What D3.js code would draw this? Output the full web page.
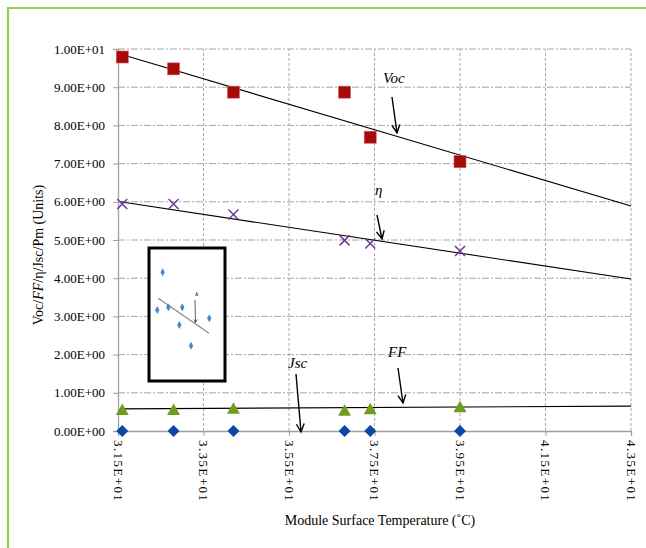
<!DOCTYPE html>
<html><head><meta charset="utf-8">
<script src="https://cdn.jsdelivr.net/npm/d3@7"></script>
<style>
html,body{margin:0;padding:0;background:#fff;}
svg{display:block;}
svg text{font-family:"Liberation Serif","Times New Roman","DejaVu Serif",serif !important;fill:#000;}
</style></head>
<body>
<script>
// ---- data ----
const temps = [31.6, 32.8, 34.2, 36.8, 37.4, 39.5];
const voc   = [9.79, 9.48, 8.87, 8.87, 7.69, 7.05];
const eta   = [5.94, 5.94, 5.67, 4.99, 4.91, 4.71];
const ff    = [0.55, 0.55, 0.58, 0.53, 0.57, 0.62];
const jsc   = [0, 0, 0, 0, 0, 0];
const trendX   = [31.55, 43.5];
const vocTrend = [9.87, 5.89];
const etaTrend = [6.0, 3.98];
const ffTrend  = [0.58, 0.65];
const xTicks = [31.5, 33.5, 35.5, 37.5, 39.5, 41.5, 43.5];
const xTickLabels = ["3.15E+01","3.35E+01","3.55E+01","3.75E+01","3.95E+01","4.15E+01","4.35E+01"];
const yTicks = [0,1,2,3,4,5,6,7,8,9,10];
const yTickLabels = ["0.00E+00","1.00E+00","2.00E+00","3.00E+00","4.00E+00","5.00E+00","6.00E+00","7.00E+00","8.00E+00","9.00E+00","1.00E+01"];
// inset (decorative mini chart), arbitrary 0-10 units
const insetX = [1.09, 1.80, 2.54, 4.38, 3.99, 5.53, 7.93];
const insetY = [5.34, 8.17, 5.54, 5.54, 4.21, 2.65, 4.71];
const insetLineX = [1.22, 7.89];
const insetLineY = [6.22, 3.59];

const FONT = '"Liberation Serif","Times New Roman","DejaVu Serif",serif';
const W = 646, H = 548;
const svg = d3.select("body").append("svg").attr("width", W).attr("height", H)
  .style("font-family", FONT);

// outer green frame
svg.append("path").attr("d", "M8,548 L8,8 L646,8").attr("fill","none")
  .attr("stroke","#92d050").attr("stroke-width",2.2);

const x = d3.scaleLinear().domain([31.5, 43.5]).range([118, 631]);
const y = d3.scaleLinear().domain([0, 10]).range([431, 49]);

const gridC = "#a6a6a6";
svg.append("g").selectAll("line").data(yTicks.filter(d=>d>0)).join("line")
  .attr("x1", x(31.5)).attr("x2", x(43.5)).attr("y1", d=>y(d)).attr("y2", d=>y(d))
  .attr("stroke", gridC).attr("stroke-width",1).attr("stroke-dasharray","7,2,2,2");
svg.append("g").selectAll("line").data(xTicks.filter(d=>d>31.5)).join("line")
  .attr("x1", d=>x(d)).attr("x2", d=>x(d)).attr("y1", y(0)).attr("y2", y(10))
  .attr("stroke", gridC).attr("stroke-width",1).attr("stroke-dasharray","3,2");

const yAxis = svg.append("g").attr("transform", `translate(${x(31.5)},0)`)
  .call(d3.axisLeft(y).tickValues(yTicks).tickSize(5).tickFormat((d,i)=>yTickLabels[i]));
const xAxis = svg.append("g").attr("transform", `translate(0,${y(0)})`)
  .call(d3.axisBottom(x).tickValues(xTicks).tickSize(5).tickFormat((d,i)=>xTickLabels[i]));
[yAxis, xAxis].forEach(g=>{
  g.attr("font-family", FONT);
  g.select(".domain").attr("stroke","#a0a0a0").attr("stroke-width",1.3);
  g.selectAll(".tick line").attr("stroke","#a0a0a0");
});
yAxis.selectAll(".tick text").attr("font-size",13).style("font-family",FONT)
  .attr("x",-13).attr("fill","#000");
xAxis.selectAll(".tick text").attr("font-size",13).style("font-family",FONT)
  .attr("fill","#000").attr("letter-spacing","1.4px")
  .attr("transform","rotate(90)").attr("text-anchor","start")
  .attr("x",9).attr("y",0).attr("dy","0.35em");

const line = d3.line().x(d=>x(d[0])).y(d=>y(d[1]));
[vocTrend, etaTrend, ffTrend].forEach(t=>{
  svg.append("path").attr("d", line(trendX.map((v,i)=>[v,t[i]])))
    .attr("fill","none").attr("stroke","#000").attr("stroke-width",1.1);
});

// Jsc diamonds
svg.append("g").selectAll("path").data(temps).join("path")
  .attr("d",(d,i)=>{const cx=x(d), cy=y(jsc[i]); return `M${cx},${cy-6}L${cx+6},${cy}L${cx},${cy+6}L${cx-6},${cy}Z`;})
  .attr("fill","#0a47a8");
// FF triangles
svg.append("g").selectAll("path").data(temps).join("path")
  .attr("d",(d,i)=>{const cx=x(d), cy=y(ff[i]); return `M${cx},${cy-6.5}L${cx+6.5},${cy+5}L${cx-6.5},${cy+5}Z`;})
  .attr("fill","#6e9e1c");
// Voc squares
svg.append("g").selectAll("rect").data(temps).join("rect")
  .attr("x",d=>x(d)-6).attr("y",(d,i)=>y(voc[i])-6).attr("width",12).attr("height",12)
  .attr("fill","#a80a0a").attr("stroke","#d45a5a").attr("stroke-width",0.6);
// eta crosses
svg.append("g").selectAll("path").data(temps).join("path")
  .attr("d",(d,i)=>{const cx=x(d), cy=y(eta[i]), r=5;
    return `M${cx-r},${cy-r}L${cx+r},${cy+r}M${cx-r},${cy+r}L${cx+r},${cy-r}`;})
  .attr("stroke","#6a3a9e").attr("stroke-width",1.5).attr("fill","none");

function arrow(x1,y1,x2,y2){
  const a = Math.atan2(y2-y1,x2-x1), L=9, s=0.45;
  const p = `M${x1},${y1}L${x2},${y2}M${x2-L*Math.cos(a-s)},${y2-L*Math.sin(a-s)}L${x2},${y2}L${x2-L*Math.cos(a+s)},${y2-L*Math.sin(a+s)}`;
  svg.append("path").attr("d",p).attr("stroke","#000").attr("stroke-width",1.4).attr("fill","none");
}
function label(t,xx,yy){
  svg.append("text").attr("x",xx).attr("y",yy).attr("font-size",15).attr("font-style","italic")
    .style("font-family",FONT).text(t);
}
label("Voc",383,83); arrow(392,97,397,133);
label("η",375,195); arrow(377,215,382,239);
label("Jsc",288,368); arrow(296,374,301,432);
label("FF",388,357); arrow(398,368,403,403);

// inset
const ix = d3.scaleLinear().domain([0,10]).range([149,225]);
const iy = d3.scaleLinear().domain([0,10]).range([381,248]);
const inset = svg.append("g");
inset.append("rect").attr("x",ix(0)).attr("y",iy(10)).attr("width",ix(10)-ix(0)).attr("height",iy(0)-iy(10))
  .attr("fill","#fff").attr("stroke","#000").attr("stroke-width",3);
inset.append("path").attr("d",`M${ix(insetLineX[0])},${iy(insetLineY[0])}L${ix(insetLineX[1])},${iy(insetLineY[1])}`)
  .attr("stroke","#888").attr("stroke-width",1.2);
inset.selectAll(".ip").data(insetX).join("path").attr("class","ip")
  .attr("d",(d,i)=>{const cx=ix(d), cy=iy(insetY[i]); return `M${cx},${cy-4}L${cx+2.2},${cy}L${cx},${cy+4}L${cx-2.2},${cy}Z`;})
  .attr("fill","#4a86c8");
inset.append("path").attr("d",`M${ix(6.05)},${iy(6.1)}L${ix(6.12)},${iy(4.4)}M${ix(6.12)-1.8},${iy(4.4)-3}L${ix(6.12)},${iy(4.4)}L${ix(6.12)+1.8},${iy(4.4)-3}`)
  .attr("stroke","#333").attr("stroke-width",0.8).attr("fill","none");
inset.append("text").attr("x",ix(6.1)).attr("y",iy(6.4)).attr("font-size",7).attr("font-style","italic")
  .style("font-family",FONT).attr("fill","#555").text("k");

svg.append("text").attr("transform","translate(43,255) rotate(-90)").attr("text-anchor","middle")
  .attr("font-size",14).style("font-family",FONT)
  .call(t=>{
    t.append("tspan").text("Voc/");
    t.append("tspan").attr("font-style","italic").text("FF");
    t.append("tspan").text("/η/Jsc/Pm (Units)");
  });
svg.append("text").attr("x",380).attr("y",525).attr("text-anchor","middle").attr("font-size",14)
  .style("font-family",FONT).text("Module Surface Temperature (˚C)");
</script>
</body></html>
